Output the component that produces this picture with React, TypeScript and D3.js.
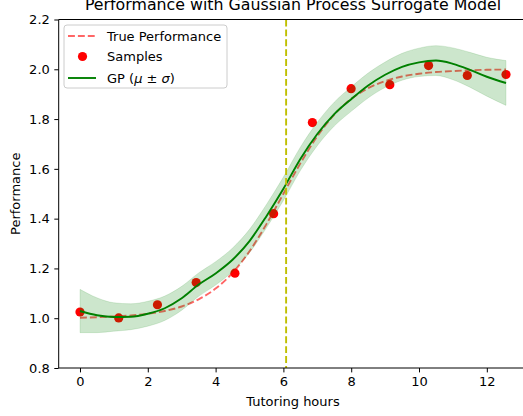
import { useRef, useEffect } from 'react';
import * as d3 from 'd3';

const WIDTH = 523;
const HEIGHT = 416;
const PLOT = { left: 58.7, right: 527.3, top: 19.5, bottom: 368 };
const FONT = '"DejaVu Sans", sans-serif';
const FS = '13px';

// Observed samples
const sampleX = [0, 1.142, 2.285, 3.427, 4.57, 5.712, 6.854, 7.997, 9.139, 10.281, 11.424, 12.566];
const sampleY = [1.025, 1.001, 1.054, 1.143, 1.181, 1.42, 1.786, 1.922, 1.938, 2.015, 1.975, 1.979];

// Curves
const gridX = [0, 0.5, 1, 1.5, 2, 2.5, 3, 3.5, 4, 4.5, 5, 5.5, 6, 6.5, 7, 7.5, 8, 8.5, 9, 9.5, 10, 10.5, 11, 11.5, 12, 12.566];
const trueY = [1.002, 1.004, 1.007, 1.011, 1.018, 1.029, 1.047, 1.076, 1.119, 1.182, 1.269, 1.378, 1.5, 1.622, 1.731, 1.818, 1.881, 1.924, 1.953, 1.971, 1.982, 1.989, 1.993, 1.996, 1.998, 1.999];
const gpMean = [1.029, 1.012, 1.005, 1.006, 1.018, 1.04, 1.08, 1.135, 1.18, 1.235, 1.31, 1.41, 1.52, 1.64, 1.74, 1.82, 1.88, 1.935, 1.978, 2.01, 2.028, 2.035, 2.022, 1.998, 1.97, 1.945];
const gpStd = [0.087, 0.07, 0.057, 0.052, 0.05, 0.049, 0.048, 0.047, 0.047, 0.047, 0.047, 0.047, 0.047, 0.047, 0.047, 0.048, 0.049, 0.05, 0.051, 0.054, 0.057, 0.06, 0.064, 0.07, 0.078, 0.09];

const nextX = 6.08;

const xTicks = [0, 2, 4, 6, 8, 10, 12];
const yTicks = [0.8, 1.0, 1.2, 1.4, 1.6, 1.8, 2.0, 2.2];

export default function App() {
  const svgRef = useRef<SVGSVGElement>(null);

  useEffect(() => {
    if (!svgRef.current) return;
    const svg = d3.select(svgRef.current);
    svg.selectAll('*').remove();

    const x = d3.scaleLinear().domain([-0.628, 13.194]).range([PLOT.left, PLOT.right]);
    const y = d3.scaleLinear().domain([0.8, 2.2]).range([PLOT.bottom, PLOT.top]);

    const clipId = 'plot-clip';
    svg.append('defs').append('clipPath').attr('id', clipId)
      .append('rect')
      .attr('x', PLOT.left).attr('y', PLOT.top)
      .attr('width', PLOT.right - PLOT.left).attr('height', PLOT.bottom - PLOT.top);

    const plot = svg.append('g').attr('clip-path', `url(#${clipId})`);
    const idx = gridX.map((_, i) => i);

    // True performance (dashed red)
    const trueLine = d3.line<number>()
      .x((i) => x(gridX[i]))
      .y((i) => y(trueY[i]))
      .curve(d3.curveMonotoneX);
    plot.append('path')
      .datum(idx)
      .attr('fill', 'none')
      .attr('stroke', 'red')
      .attr('stroke-opacity', 0.6)
      .attr('stroke-width', 1.9)
      .attr('stroke-dasharray', '6.9,3')
      .attr('d', trueLine);

    // Samples
    plot.append('g')
      .selectAll('circle')
      .data(sampleX)
      .join('circle')
      .attr('cx', (d) => x(d))
      .attr('cy', (_, i) => y(sampleY[i]))
      .attr('r', 4.6)
      .attr('fill', 'red');

    // GP mean
    const meanLine = d3.line<number>()
      .x((i) => x(gridX[i]))
      .y((i) => y(gpMean[i]))
      .curve(d3.curveMonotoneX);
    plot.append('path')
      .datum(idx)
      .attr('fill', 'none')
      .attr('stroke', '#008000')
      .attr('stroke-width', 1.9)
      .attr('d', meanLine);

    // GP band, drawn on top with low alpha
    const band = d3.area<number>()
      .x((i) => x(gridX[i]))
      .y0((i) => y(gpMean[i] - gpStd[i]))
      .y1((i) => y(gpMean[i] + gpStd[i]))
      .curve(d3.curveMonotoneX);
    plot.append('path')
      .datum(idx)
      .attr('fill', '#008000')
      .attr('fill-opacity', 0.2)
      .attr('stroke', '#008000')
      .attr('stroke-opacity', 0.12)
      .attr('stroke-width', 1)
      .attr('d', band);

    // Next query location
    plot.append('line')
      .attr('x1', x(nextX)).attr('x2', x(nextX))
      .attr('y1', PLOT.top).attr('y2', PLOT.bottom)
      .attr('stroke', '#bfbf00')
      .attr('stroke-width', 1.9)
      .attr('stroke-dasharray', '6.9,3');

    // ── Spines ───────────────────────────────────────────────
    const spine = svg.append('g').attr('stroke', '#000').attr('stroke-width', 1);
    spine.append('line').attr('x1', PLOT.left).attr('x2', PLOT.left).attr('y1', PLOT.top).attr('y2', PLOT.bottom);
    spine.append('line').attr('x1', PLOT.left).attr('x2', PLOT.right).attr('y1', PLOT.bottom).attr('y2', PLOT.bottom);
    spine.append('line').attr('x1', PLOT.left).attr('x2', PLOT.right).attr('y1', PLOT.top).attr('y2', PLOT.top);
    spine.append('line').attr('x1', PLOT.right).attr('x2', PLOT.right).attr('y1', PLOT.top).attr('y2', PLOT.bottom);

    // ── Axes ─────────────────────────────────────────────────
    const styleAxis = (sel: d3.Selection<SVGGElement, unknown, null, undefined>) => {
      sel.select('.domain').remove();
      sel.selectAll('.tick line').attr('stroke', '#000');
      sel.selectAll('.tick text')
        .attr('fill', '#000')
        .attr('font-size', FS)
        .attr('font-family', FONT);
    };

    svg.append('g')
      .attr('transform', `translate(0,${PLOT.bottom})`)
      .call(d3.axisBottom(x).tickValues(xTicks).tickFormat(d3.format('d')).tickSize(4.4).tickPadding(4.5))
      .call(styleAxis);

    svg.append('g')
      .attr('transform', `translate(${PLOT.left},0)`)
      .call(d3.axisLeft(y).tickValues(yTicks).tickFormat(d3.format('.1f')).tickSize(4.4).tickPadding(4.5))
      .call(styleAxis);

    svg.append('text')
      .attr('x', (PLOT.left + PLOT.right) / 2)
      .attr('y', 406)
      .attr('text-anchor', 'middle')
      .attr('font-size', FS)
      .attr('font-family', FONT)
      .text('Tutoring hours');

    svg.append('text')
      .attr('transform', `translate(20,${(PLOT.top + PLOT.bottom) / 2}) rotate(-90)`)
      .attr('text-anchor', 'middle')
      .attr('font-size', FS)
      .attr('font-family', FONT)
      .text('Performance');

    svg.append('text')
      .attr('x', (PLOT.left + PLOT.right) / 2)
      .attr('y', 10)
      .attr('text-anchor', 'middle')
      .attr('font-size', '15.8px')
      .attr('font-family', FONT)
      .text('Performance with Gaussian Process Surrogate Model');

    // ── Legend ───────────────────────────────────────────────
    const legend = svg.append('g').attr('transform', 'translate(64,25)');
    legend.append('rect')
      .attr('width', 163).attr('height', 63).attr('rx', 3)
      .attr('fill', '#fff').attr('fill-opacity', 0.8)
      .attr('stroke', '#cccccc').attr('stroke-width', 1);

    const rowY = [11, 31.5, 53];
    legend.append('line')
      .attr('x1', 4).attr('x2', 32).attr('y1', rowY[0]).attr('y2', rowY[0])
      .attr('stroke', 'red').attr('stroke-opacity', 0.6)
      .attr('stroke-width', 1.9).attr('stroke-dasharray', '6.9,3');
    legend.append('circle')
      .attr('cx', 18.5).attr('cy', rowY[1]).attr('r', 4.6).attr('fill', 'red');
    legend.append('line')
      .attr('x1', 4).attr('x2', 32).attr('y1', rowY[2]).attr('y2', rowY[2])
      .attr('stroke', '#008000').attr('stroke-width', 1.9);

    const lbl = (i: number) =>
      legend.append('text')
        .attr('x', 43)
        .attr('y', rowY[i])
        .attr('dy', '0.36em')
        .attr('font-size', FS)
        .attr('font-family', FONT);

    lbl(0).text('True Performance');
    lbl(1).text('Samples');
    const gp = lbl(2);
    gp.append('tspan').text('GP (');
    gp.append('tspan').attr('font-style', 'italic').text('μ');
    gp.append('tspan').text(' ± ');
    gp.append('tspan').attr('font-style', 'italic').text('σ');
    gp.append('tspan').text(')');
  }, []);

  return (
    <svg
      ref={svgRef}
      width={WIDTH}
      height={HEIGHT}
      style={{ position: 'absolute', left: 0, top: 0, background: '#fff', display: 'block' }}
    />
  );
}
